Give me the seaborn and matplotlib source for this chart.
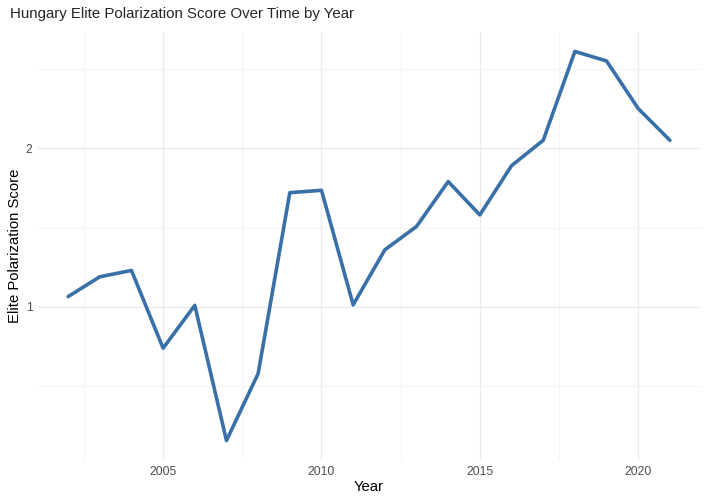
import numpy as np
import pandas as pd
import seaborn as sns
import matplotlib.pyplot as plt
from matplotlib.ticker import MultipleLocator

years = [2002, 2003, 2004, 2005, 2006, 2007, 2008, 2009, 2010, 2011,
         2012, 2013, 2014, 2015, 2016, 2017, 2018, 2019, 2020, 2021]
scores = [1.065, 1.19, 1.23, 0.74, 1.01, 0.158, 0.58, 1.72, 1.735, 1.013,
          1.36, 1.507, 1.79, 1.58, 1.89, 2.05, 2.61, 2.55, 2.25, 2.05]

df = pd.DataFrame({"Year": years, "Score": scores})

sns.set_style("white")
plt.rcParams['font.family'] = ['Liberation Sans', 'DejaVu Sans']

fig = plt.figure(figsize=(7.05, 4.99), dpi=100)
ax = fig.add_axes([38 / 705, 1 - 460 / 499, 662 / 705, 428 / 499])

sns.lineplot(data=df, x="Year", y="Score", color="#3A70A8", linewidth=2.6, ax=ax)

# ggplot-like expansion
xr = max(years) - min(years)
ax.set_xlim(min(years) - 0.05 * xr, max(years) + 0.05 * xr)
yr = max(scores) - min(scores)
ax.set_ylim(min(scores) - 0.05 * yr, max(scores) + 0.05 * yr)

ax.xaxis.set_major_locator(MultipleLocator(5))
ax.xaxis.set_minor_locator(MultipleLocator(2.5))
ax.yaxis.set_major_locator(MultipleLocator(1))
ax.yaxis.set_minor_locator(MultipleLocator(0.5))
ax.set_yticks([1, 2])
ax.set_yticklabels(["1", "2"])
ax.grid(which="major", color="#EBEBEB", linewidth=1.0)
ax.grid(which="minor", color="#F4F4F4", linewidth=0.8)
ax.set_axisbelow(True)
for s in ax.spines.values():
    s.set_visible(False)
ax.tick_params(which="both", length=0, labelsize=8.8, labelcolor="#4D4D4D", pad=4)

ax.set_xlabel("Year", fontsize=10.7, color="black", labelpad=2)
ax.set_ylabel("Elite Polarization Score", fontsize=10.7, color="black", labelpad=3)
fig.text(10 / 705, 1 - 14 / 499, "Hungary Elite Polarization Score Over Time by Year",
         fontsize=10.8, ha="left", va="center")

fig.savefig("out.png", dpi=100)
